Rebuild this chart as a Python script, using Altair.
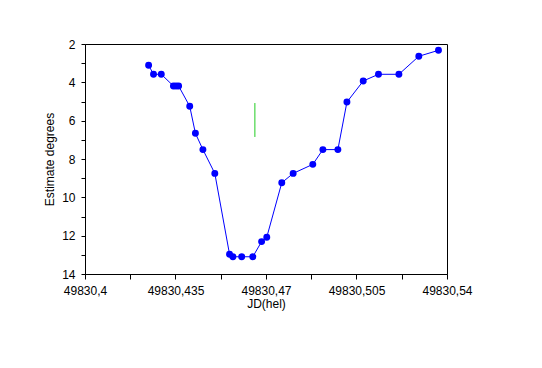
import altair as alt
import pandas as pd

jd = [49830.4246, 49830.4265, 49830.4295, 49830.4342, 49830.4352, 49830.4362,
      49830.4405, 49830.4427, 49830.4456, 49830.4502, 49830.4559, 49830.4572,
      49830.4606, 49830.4649, 49830.4683, 49830.4703, 49830.4761, 49830.4805,
      49830.4881, 49830.4920, 49830.4978, 49830.5013, 49830.5076, 49830.5135,
      49830.5214, 49830.5291, 49830.5367]
est = [3.11, 3.58, 3.58, 4.19, 4.19, 4.19,
       5.25, 6.66, 7.51, 8.75, 12.97, 13.10,
       13.10, 13.10, 12.31, 12.08, 9.24, 8.75,
       8.28, 7.51, 7.51, 5.03, 3.93, 3.58,
       3.58, 2.64, 2.33]

err_x = [49830.4657]
err_lo = [5.08]
err_hi = [6.85]

x_major = [49830.4, 49830.435, 49830.47, 49830.505, 49830.54]
x_minor = [49830.4175, 49830.4525, 49830.4875, 49830.5225]
y_major = [2, 4, 6, 8, 10, 12, 14]
y_minor = [3, 5, 7, 9, 11, 13]

df = pd.DataFrame({"jd": jd, "est": est})
err = pd.DataFrame({"x": err_x, "lo": err_lo, "hi": err_hi})

FONT = "Liberation Sans"

xscale = alt.Scale(domain=[49830.4, 49830.54], nice=False, zero=False)
yscale = alt.Scale(domain=[2, 14], reverse=True, nice=False, zero=False)

xaxis = alt.Axis(
    title="JD(hel)", values=x_major, grid=False, tickSize=5, labelPadding=6,
    labelOverlap=False, labelFlush=False,
    labelExpr="replace(format(datum.value, '.3~f'), '.', ',')",
    titlePadding=2,
)
yaxis = alt.Axis(
    title="Estimate degrees", values=y_major, grid=False, tickSize=4, labelPadding=6,
    labelOverlap=False, labelFlush=False, format="d",
    titlePadding=5,
)
xaxis_minor = alt.Axis(
    title=None, values=x_minor, grid=False, tickSize=5, labels=False,
    domain=False, orient="bottom",
)
yaxis_minor = alt.Axis(
    title=None, values=y_minor, grid=False, tickSize=4, labels=False,
    domain=False, orient="left",
)

base = alt.Chart(df)
line = base.mark_line(color="#0000ff", strokeWidth=1).encode(
    x=alt.X("jd:Q", scale=xscale, axis=xaxis),
    y=alt.Y("est:Q", scale=yscale, axis=yaxis),
)
pts = base.mark_point(filled=True, color="#0000ff", size=48, opacity=1).encode(
    x=alt.X("jd:Q", scale=xscale, axis=xaxis_minor),
    y=alt.Y("est:Q", scale=yscale, axis=yaxis_minor),
)
rule = alt.Chart(err).mark_rule(color="#22cc22", strokeWidth=1).encode(
    x=alt.X("x:Q", scale=xscale, axis=None),
    y=alt.Y("lo:Q", scale=yscale, axis=None),
    y2="hi:Q",
)

chart = alt.layer(rule, line, pts).resolve_axis(
    x="independent", y="independent"
).properties(
    width=362, height=230,
    autosize=alt.AutoSizeParams(type="none"),
    padding={"left": 77, "top": 36, "right": 80, "bottom": 80},
    background="white",
).configure_view(stroke="black", strokeWidth=1).configure_axis(
    domainColor="black", tickColor="black", labelColor="black", titleColor="black",
    labelFont=FONT, titleFont=FONT, labelFontSize=12, titleFontSize=12,
    titleFontWeight="normal",
)

chart.save("out.html", embed_options={"renderer": "svg", "actions": False})
